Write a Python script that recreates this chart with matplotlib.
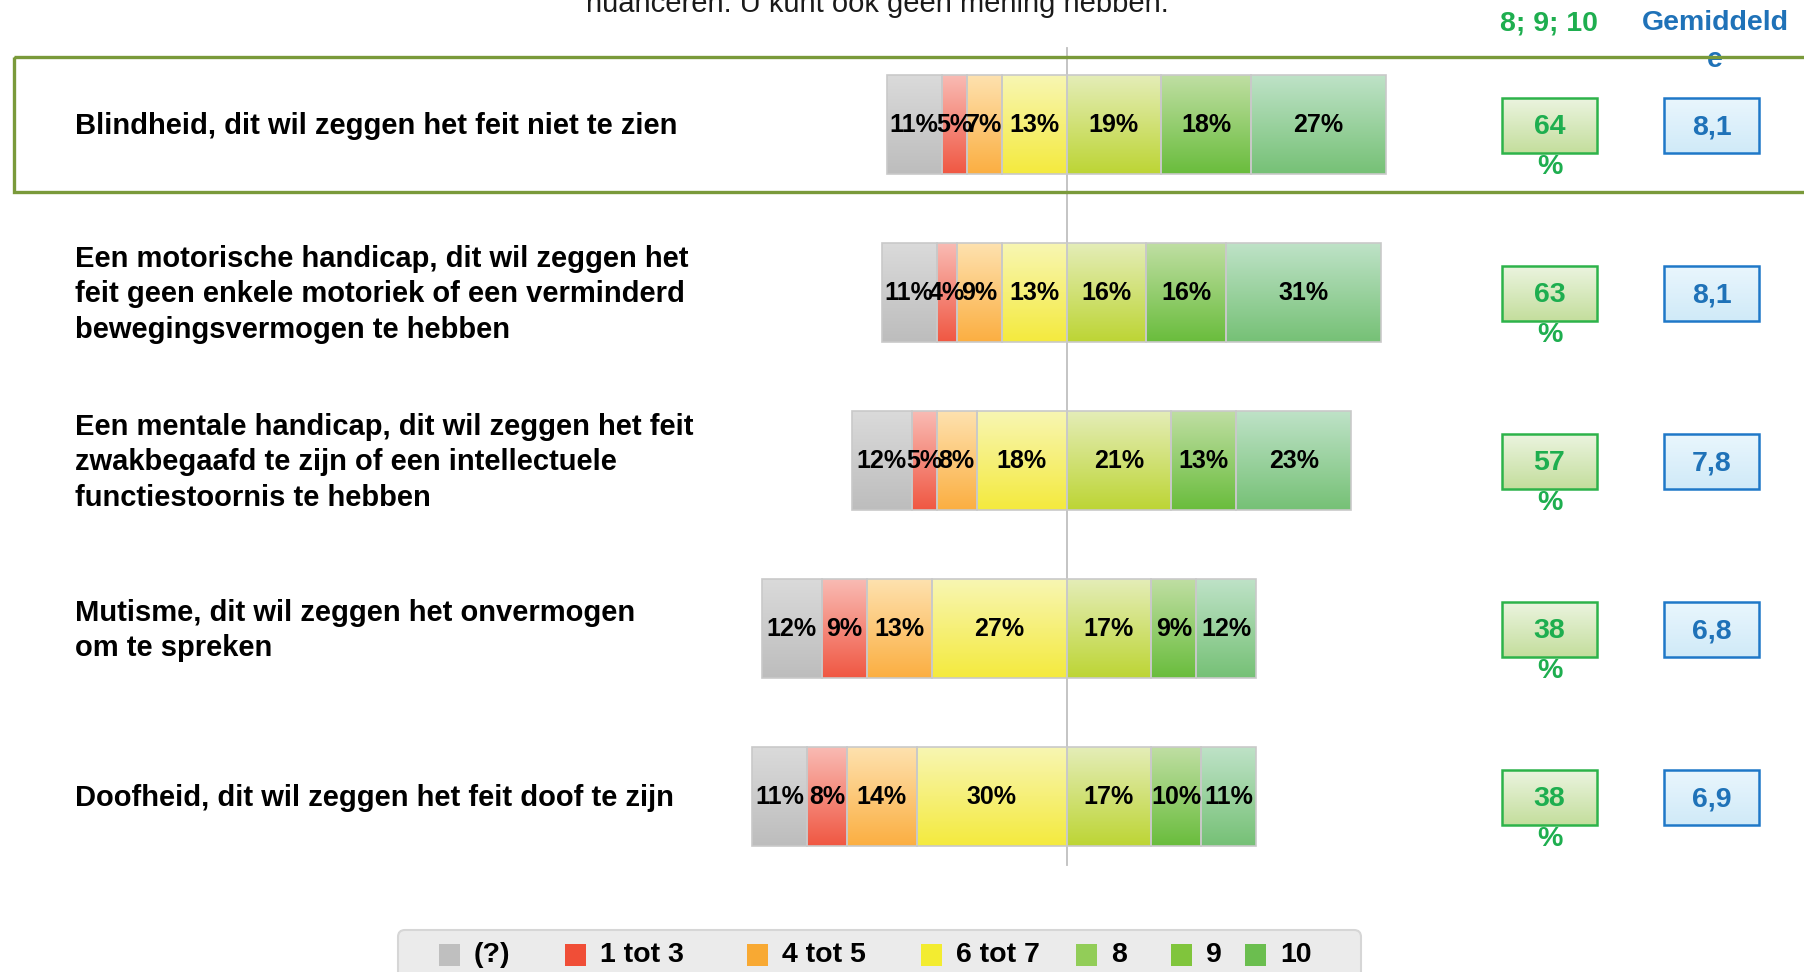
import numpy as np
import matplotlib.pyplot as plt
from matplotlib.colors import LinearSegmentedColormap
from matplotlib.patches import Rectangle, FancyBboxPatch
from matplotlib.transforms import IdentityTransform

plt.rcParams['font.family'] = ['Liberation Sans', 'DejaVu Sans']

# data
labels = ["Blindheid, dit wil zeggen het feit niet te zien",
          "Een motorische handicap, dit wil zeggen het\nfeit geen enkele motoriek of een verminderd\nbewegingsvermogen te hebben",
          "Een mentale handicap, dit wil zeggen het feit\nzwakbegaafd te zijn of een intellectuele\nfunctiestoornis te hebben",
          "Mutisme, dit wil zeggen het onvermogen\nom te spreken",
          "Doofheid, dit wil zeggen het feit doof te zijn"]
unknown = [11, 11, 12, 12, 11]
score_1_3 = [5, 4, 5, 9, 8]
score_4_5 = [7, 9, 8, 13, 14]
score_6_7 = [13, 13, 18, 27, 30]
score_8 = [19, 16, 21, 17, 17]
score_9 = [18, 16, 13, 9, 10]
score_10 = [27, 31, 23, 12, 11]
top3 = [64, 63, 57, 38, 38]
means = ["8,1", "8,1", "7,8", "6,8", "6,9"]
legend_labels = ["(?)", "1 tot 3", "4 tot 5", "6 tot 7", "8", "9", "10"]

# colours: (top of gradient, bottom of gradient)
grad_cols = [("#DADADA", "#BDBDBD"), ("#F9BAB3", "#F05843"), ("#FEE1AE", "#FBAF42"),
             ("#F8F6B2", "#F4EA3E"), ("#E4EDB7", "#BDD535"), ("#BFDEA2", "#6ABD3D"),
             ("#BEE2C7", "#76C176")]
swatch_cols = ["#BFBFBF", "#F04E37", "#F8A933", "#F3EC30", "#92CD58", "#80C53C", "#6BBE4F"]

W, H = 1804, 972
X0, PX = 1066.5, 4.993   # centre line pixel, pixels per percent
Y0, ROW = 124.3, 168.0   # first row centre pixel, pixels per row
BAR_H = 99 / ROW

def px(x):
    return (x - X0) / PX

def py(y):
    return (y - Y0) / ROW

fig = plt.figure(figsize=(W / 100, H / 100), dpi=100)
ax = fig.add_axes([0, 0, 1, 1])
ax.axis('off')

series = [unknown, score_1_3, score_4_5, score_6_7, score_8, score_9, score_10]
rows = np.arange(len(labels))
left = -(np.array(unknown) + np.array(score_1_3) + np.array(score_4_5) + np.array(score_6_7)).astype(float)
grad = np.linspace(0, 1, 64).reshape(-1, 1)
for vals, (ctop, cbot) in zip(series, grad_cols):
    bars = ax.barh(rows, vals, left=left, height=BAR_H, facecolor='none',
                   edgecolor='#C9C9C9', linewidth=1.2, zorder=3)
    cmap = LinearSegmentedColormap.from_list('g', [ctop, cbot])
    for b, v in zip(bars, vals):
        x, y, w, h = b.get_x(), b.get_y(), b.get_width(), b.get_height()
        ax.imshow(grad, cmap=cmap, extent=(x, x + w, y + h, y), origin='upper',
                  aspect='auto', zorder=2, interpolation='bilinear')
        ax.text(x + w / 2, y + h / 2 + 0.005, f"{v}%", ha='center', va='center',
                fontsize=18, fontweight='bold', color='black', zorder=4)
    left = left + np.array(vals)

# centre line
ax.plot([0, 0], [py(48), py(865)], color='#BFBFBF', lw=1.3, zorder=1)

# highlight frame around first row
ax.add_patch(Rectangle((px(14), py(57)), px(W + 20) - px(14), py(192) - py(57),
                       fill=False, edgecolor='#7A9A3A', lw=2.4, zorder=5))

# row labels
for i, lab in enumerate(labels):
    ax.text(px(75), i + 2 / ROW, lab, ha='left', va='center', fontsize=21,
            fontweight='bold', color='black', linespacing=1.33)

# top note (cut off)
ax.text(px(877), py(12), "nuanceren. U kunt ook geen mening hebben.", ha='center',
        va='baseline', fontsize=21, color='#1A1A1A')

# column headers
ax.text(px(1549), py(23), "8; 9; 10", ha='center', va='center', fontsize=20.5,
        fontweight='bold', color='#1EAE4F')
ax.text(px(1715), py(23), "Gemiddeld", ha='center', va='center', fontsize=20.5,
        fontweight='bold', color='#1F72B8')
ax.text(px(1715), py(60), "e", ha='center', va='center', fontsize=20.5,
        fontweight='bold', color='#1F72B8')

# side boxes
gcmap = LinearSegmentedColormap.from_list('gb', ["#EBF4DF", "#C4DE9D"])
bcmap = LinearSegmentedColormap.from_list('bb', ["#E9F6FD", "#D0EAF8"])
for i in rows:
    yt = i - 26 / ROW
    yb = i + 29 / ROW
    ax.imshow(grad, cmap=gcmap, extent=(px(1502), px(1597), yb, yt), origin='upper',
              aspect='auto', zorder=2)
    ax.add_patch(Rectangle((px(1502), yt), px(1597) - px(1502), yb - yt, fill=False,
                           edgecolor='#2DB34A', lw=1.8, zorder=3))
    ax.text(px(1549.5), i + 3 / ROW, str(top3[i]), ha='center', va='center',
            fontsize=20.5, fontweight='bold', color='#1EAE4F', zorder=4)
    ax.text(px(1549.5), i + 43 / ROW, "%", ha='center', va='center',
            fontsize=20.5, fontweight='bold', color='#1EAE4F', zorder=4)
    ax.imshow(grad, cmap=bcmap, extent=(px(1664), px(1759), yb, yt), origin='upper',
              aspect='auto', zorder=2)
    ax.add_patch(Rectangle((px(1664), yt), px(1759) - px(1664), yb - yt, fill=False,
                           edgecolor='#1F78C8', lw=1.8, zorder=3))
    ax.text(px(1711.5), i + 3 / ROW, means[i], ha='center', va='center',
            fontsize=20.5, fontweight='bold', color='#1F72B8', zorder=4)

ax.set_xlim(px(0), px(W))
ax.set_ylim(py(H), py(0))

# legend box (pixel coordinates, y measured from bottom)
fig.patches.append(FancyBboxPatch((398, H - 1010), 963, 80,
                                  boxstyle="round,pad=0,rounding_size=7",
                                  facecolor='#EBEBEB', edgecolor='#D6D6D6', lw=1.5,
                                  transform=IdentityTransform(), figure=fig, zorder=-1))
sw_x = [439, 565, 747, 921, 1076, 1171, 1245]
for sx, col, lab in zip(sw_x, swatch_cols, legend_labels):
    ax.add_patch(Rectangle((px(sx), py(944)), px(sx + 21) - px(sx), py(966) - py(944),
                           facecolor=col, edgecolor='none', zorder=6))
    ax.text(px(sx + 35), py(955), lab, ha='left', va='center', fontsize=20.5,
            fontweight='bold', color='black', zorder=6)

fig.savefig('out.png', dpi=100)
